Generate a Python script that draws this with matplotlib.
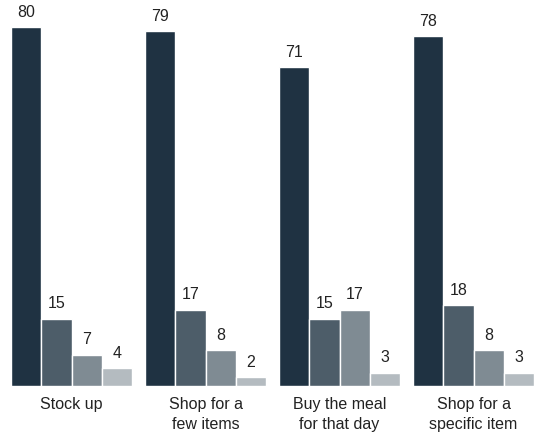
import matplotlib
matplotlib.use("Agg")
import matplotlib.pyplot as plt

categories = ["Stock up", "Shop for a\nfew items", "Buy the meal\nfor that day", "Shop for a\nspecific item"]
series_values = [
    [80, 15, 7, 4],
    [79, 17, 8, 2],
    [71, 15, 17, 3],
    [78, 18, 8, 3],
]
colors = ["#1f3242", "#4d5d69", "#7f8b93", "#b4bbc0"]

plt.rcParams['font.family'] = ['Liberation Sans', 'DejaVu Sans']

fig = plt.figure(figsize=(5.35, 4.36), dpi=100)
ax = fig.add_axes([0, 50/436, 1, 386/436])

pitch = 134/30.25
for i, vals in enumerate(series_values):
    for j, v in enumerate(vals):
        x = pitch*i + j
        ax.bar(x, v, width=1, align='edge', color=colors[j], edgecolor='white', linewidth=1)
        ax.text(x + 0.5, v + 1.6, str(v), ha='center', va='bottom', fontsize=11.5, color='#222222')
    ax.text(pitch*i + 2, -2.4, categories[i], ha='center', va='top', fontsize=11.5,
            color='#222222', linespacing=1.4)

ax.set_xlim(-11/30.25, (535-11)/30.25)
ax.set_ylim(0, 386/4.49)
ax.axis('off')

fig.savefig("out.png", dpi=100)
